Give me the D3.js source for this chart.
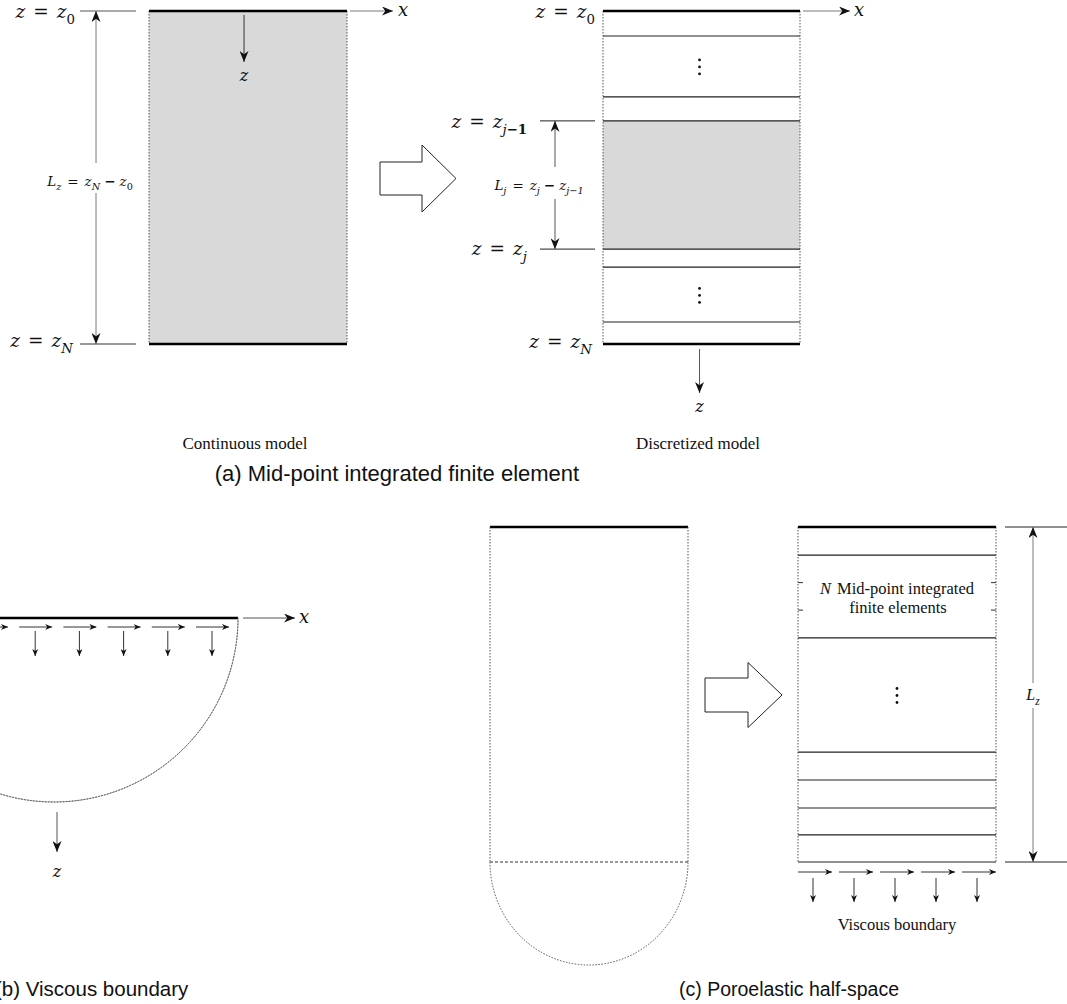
<!DOCTYPE html>
<html>
<head>
<meta charset="utf-8">
<script src="https://cdn.jsdelivr.net/npm/d3@7"></script>
<style>
  html, body { margin: 0; padding: 0; background: #fff; }
  svg { display: block; }
</style>
</head>
<body>
<svg id="fig" width="1067" height="1004"></svg>
<script>
// ---- layer boundaries, in percent of the modelled depth ----
const continuousBounds = [0, 100];
const discreteBounds   = [0, 7.5, 25.8, 33.0, 71.5, 76.9, 93.4, 100];
const activeElement    = [33.0, 71.5];          // element j (shaded)
const ellipsisDepths   = [16.8, 85.4];          // "⋮" rows in the discretized column
const halfSpaceBounds  = [0, 8.4, 33.1, 67.2, 75.5, 83.9, 91.9, 100];
const halfSpaceEllipsis = [50.3];
const halfSpaceTicks   = [16.6, 24.8];          // short marks beside the FE label
// dashpot stations along the viscous boundary (station index)
const dashpotsB = [0, 1, 2, 3, 4, 5];
const dashpotsC = [0, 1, 2, 3, 4];

// ---- text ----
const subTitles = ["Continuous model", "Discretized model"];
const captions  = ["(a) Mid-point integrated finite element", "(b) Viscous boundary", "(c) Poroelastic half-space"];
const feLabel   = ["Mid-point integrated", "finite elements"];
const vbLabel   = "Viscous boundary";

const svg = d3.select("#fig");
const GREY = "#555", DIM = "#7a7a7a";
const SERIF = "'Liberation Serif', 'Times New Roman', serif";
const MATH = "'DejaVu Serif', serif";

// arrowheads
const defs = svg.append("defs");
function marker(id, len, wid, color) {
  defs.append("marker").attr("id", id)
    .attr("viewBox", `${-len} ${-wid/2} ${len} ${wid}`)
    .attr("refX", 0).attr("refY", 0)
    .attr("markerUnits", "userSpaceOnUse")
    .attr("markerWidth", len).attr("markerHeight", wid)
    .attr("orient", "auto-start-reverse")
    .append("path")
    .attr("d", `M0,0 L${-len},${-wid/2} L${-len*0.7},0 L${-len},${wid/2} Z`)
    .attr("fill", color);
}
marker("big", 11, 9, "#111");
marker("small", 7, 6, "#111");

function arrow(g, x1, y1, x2, y2, opt = {}) {
  const l = g.append("line").attr("x1", x1).attr("y1", y1).attr("x2", x2).attr("y2", y2)
    .attr("stroke", opt.color || GREY).attr("stroke-width", opt.w || 1)
    .attr("marker-end", `url(#${opt.head || "big"})`);
  if (opt.both) l.attr("marker-start", `url(#${opt.head || "big"})`);
  return l;
}
function hline(g, x1, x2, y, color, w, dash) {
  const l = g.append("line").attr("x1", x1).attr("x2", x2).attr("y1", y).attr("y2", y)
    .attr("stroke", color).attr("stroke-width", w);
  if (dash) l.attr("stroke-dasharray", dash);
  return l;
}
function vline(g, x, y1, y2, color, w, dash) {
  const l = g.append("line").attr("x1", x).attr("x2", x).attr("y1", y1).attr("y2", y2)
    .attr("stroke", color).attr("stroke-width", w);
  if (dash) l.attr("stroke-dasharray", dash);
  return l;
}
// math-style label: tokens [text, kind, dx]; kind "v" variable, "r" roman, "b" bold, "s…" subscript
function mathText(g, x, y, tokens, size, anchor, family) {
  const t = g.append("text").attr("x", x).attr("y", y)
    .attr("text-anchor", anchor || "start")
    .style("font-family", family || MATH)
    .style("font-size", size + "px").attr("fill", "#111");
  let shift = 0;
  tokens.forEach(([str, kind, dx]) => {
    const sub = kind && kind[0] === "s";
    const target = sub ? size * 0.32 : 0;
    const sp = t.append("tspan").text(str).attr("dy", target - shift);
    if (dx) sp.attr("dx", dx);
    shift = target;
    if (sub) sp.style("font-size", (size * 0.72) + "px");
    if (kind && kind.endsWith("v")) sp.style("font-style", "italic");
    if (kind && kind.endsWith("b")) sp.style("font-weight", "bold");
  });
  return t;
}
function ellipsisDots(g, x, y) {
  [-7, 0, 7].forEach(d => g.append("circle").attr("cx", x).attr("cy", y + d).attr("r", 1.4).attr("fill", "#111"));
}
function blockArrow(g, x0, yc, len, shaftH, headH, headLen) {
  const xb = x0 + len - headLen;
  const pts = [[x0, yc - shaftH/2], [xb, yc - shaftH/2], [xb, yc - headH/2], [x0 + len, yc],
               [xb, yc + headH/2], [xb, yc + shaftH/2], [x0, yc + shaftH/2]];
  g.append("path").attr("d", d3.line()(pts) + "Z").attr("fill", "#fff").attr("stroke", "#222").attr("stroke-width", 1);
}
const eqZ = (sub, subKind) => [["z", "v"], ["=", "r", 8], ["z", "v", 8], [sub, subKind]];

// =============== (a) continuous and discretized columns ===============
const gA = svg.append("g");
const yA  = d3.scaleLinear().domain([0, 100]).range([11, 344]);
const xA1 = d3.scaleLinear().domain([0, 1]).range([149, 347]);
const xA2 = d3.scaleLinear().domain([0, 1]).range([603, 800]);

// continuous column
gA.append("rect").attr("x", xA1(0)).attr("y", yA(0)).attr("width", xA1(1) - xA1(0)).attr("height", yA(100) - yA(0))
  .attr("fill", "#d9d9d9");
[0, 1].forEach(u => vline(gA, xA1(u), yA(0), yA(100), GREY, 1, "1.5,1.5"));
continuousBounds.forEach(d => hline(gA, xA1(0), xA1(1), yA(d), "#000", 2.6));
arrow(gA, xA1(0.48), yA(1.2), xA1(0.48), yA(15.3), {color: "#333"});
mathText(gA, xA1(0.48), 81, [["z", "v"]], 16, "middle");
arrow(gA, xA1(1) + 3, yA(0), xA1(1) + 46, yA(0), {color: DIM});
mathText(gA, xA1(1) + 51, 16, [["x", "v"]], 18, "start");

// reference levels and overall length
hline(gA, 80, 136, yA(0), GREY, 1);
hline(gA, 80, 136, yA(100), "#333", 1);
mathText(gA, 75, 18, eqZ("0", "sr"), 18.5, "end");
mathText(gA, 73, 347, eqZ("N", "sv"), 18.5, "end");
vline(gA, 96, yA(0), 163, DIM, 1).attr("marker-start", "url(#big)");
vline(gA, 96, 193, yA(100), DIM, 1).attr("marker-end", "url(#big)");
mathText(gA, 90, 186, [["L", "v"], ["z", "sv"], ["=", "r", 6], ["z", "v", 6], ["N", "sv"], ["−", "b", 4], ["z", "v", 4], ["0", "sr"]], 13.5, "middle");

// discretized column
gA.selectAll(".active").data([activeElement]).join("rect")
  .attr("x", xA2(0)).attr("width", xA2(1) - xA2(0))
  .attr("y", d => yA(d[0])).attr("height", d => yA(d[1]) - yA(d[0]))
  .attr("fill", "#d9d9d9");
[0, 1].forEach(u => vline(gA, xA2(u), yA(0), yA(100), GREY, 1, "1.5,1.5"));
discreteBounds.slice(1, -1).forEach(d => hline(gA, xA2(0), xA2(1), yA(d), "#222", 1.1));
[0, 100].forEach(d => hline(gA, xA2(0), xA2(1), yA(d), "#000", 2.6));
ellipsisDepths.forEach(d => ellipsisDots(gA, xA2(0.49), yA(d)));
arrow(gA, xA2(1) + 3, yA(0), xA2(1) + 50, yA(0), {color: DIM});
mathText(gA, xA2(1) + 54, 16, [["x", "v"]], 18, "start");
arrow(gA, xA2(0.49), yA(100) + 5, xA2(0.49), yA(100) + 49, {color: GREY});
mathText(gA, xA2(0.49), 412, [["z", "v"]], 16, "middle");

mathText(gA, 595, 18, eqZ("0", "sr"), 18.5, "end");
mathText(gA, 592, 348, eqZ("N", "sv"), 18.5, "end");
mathText(gA, 527, 128, [["z", "v"], ["=", "r", 8], ["z", "v", 8], ["j", "sv"], ["−1", "sb"]], 18.5, "end");
mathText(gA, 527, 255, eqZ("j", "sv"), 18.5, "end");
hline(gA, 540, 595, yA(activeElement[0]), "#222", 1);
hline(gA, 540, 595, yA(activeElement[1]), "#222", 1);
vline(gA, 555, yA(activeElement[0]), 167, GREY, 1).attr("marker-start", "url(#big)");
vline(gA, 555, 199, yA(activeElement[1]), GREY, 1).attr("marker-end", "url(#big)");
mathText(gA, 539, 190, [["L", "v"], ["j", "sv"], ["=", "r", 6], ["z", "v", 6], ["j", "sv"], ["−", "b", 4], ["z", "v", 4], ["j−1", "sv"]], 13.5, "middle");

blockArrow(gA, 380, 178.5, 76, 33, 67, 34);

gA.selectAll(".sub").data(subTitles).join("text")
  .attr("x", (d, i) => [245, 698][i]).attr("y", 449)
  .attr("text-anchor", "middle")
  .style("font-family", SERIF).style("font-size", "17px")
  .attr("fill", "#111").text(d => d);

// =============== (b) viscous boundary ===============
const gB = svg.append("g");
const yB0 = 618, cxB = 54, rB = 184;
const xB = d3.scaleLinear().domain([0, 5]).range([-9, 212]);
hline(gB, -5, cxB + rB, yB0, "#000", 2.6);
arrow(gB, cxB + rB + 5, yB0, cxB + rB + 57, yB0, {color: GREY});
mathText(gB, cxB + rB + 61, yB0 + 5, [["x", "v"]], 18, "start");
const arcB = d3.arc().innerRadius(rB).outerRadius(rB).startAngle(Math.PI / 2).endAngle(Math.PI * 1.5);
gB.append("path").attr("d", arcB()).attr("transform", `translate(${cxB},${yB0})`)
  .attr("fill", "none").attr("stroke", GREY).attr("stroke-width", 1).attr("stroke-dasharray", "1.5,1.5");
dashpotsB.forEach(i => {
  const c = xB(i);
  arrow(gB, c - 16, yB0 + 9, c + 17, yB0 + 9, {color: "#333", head: "small"});
  arrow(gB, c, yB0 + 13, c, yB0 + 38, {color: "#333", head: "small"});
});
arrow(gB, 57, 812, 57, 852, {color: GREY});
mathText(gB, 57, 877, [["z", "v"]], 16, "middle");

// =============== (c) poroelastic half-space ===============
const gC = svg.append("g");
const yC  = d3.scaleLinear().domain([0, 100]).range([527, 862]);
const xC1 = d3.scaleLinear().domain([0, 1]).range([490, 688]);
const xC2 = d3.scaleLinear().domain([0, 1]).range([798, 996]);

// continuous half-space
hline(gC, xC1(0), xC1(1), yC(0), "#000", 2.6);
[0, 1].forEach(u => vline(gC, xC1(u), yC(0), yC(100), GREY, 1, "1.5,1.5"));
hline(gC, xC1(0), xC1(1), yC(100), "#333", 1, "3,2");
const rx = (xC1(1) - xC1(0)) / 2, ry = 103;
gC.append("path")
  .attr("d", `M${xC1(0)},${yC(100)} A${rx},${ry} 0 0 0 ${xC1(1)},${yC(100)}`)
  .attr("fill", "none").attr("stroke", GREY).attr("stroke-width", 1).attr("stroke-dasharray", "1.5,1.5");

blockArrow(gC, 705, 695, 77, 34, 65, 34);

// discretized half-space
[0, 1].forEach(u => vline(gC, xC2(u), yC(0), yC(100), GREY, 1, "1.5,1.5"));
halfSpaceBounds.slice(1).forEach(d => hline(gC, xC2(0), xC2(1), yC(d), "#222", 1.1));
hline(gC, xC2(0), xC2(1), yC(0), "#000", 2.6);
halfSpaceTicks.forEach(d => {
  hline(gC, xC2(0), xC2(0) + 5, yC(d), "#333", 1);
  hline(gC, xC2(1) - 5, xC2(1), yC(d), "#333", 1);
});
halfSpaceEllipsis.forEach(d => ellipsisDots(gC, xC2(0.5), yC(d)));
const fe = gC.append("text").attr("x", xC2(0.5)).attr("y", 594).attr("text-anchor", "middle")
  .style("font-family", SERIF).style("font-size", "16.5px").attr("fill", "#111");
fe.append("tspan").style("font-style", "italic").text("N");
fe.append("tspan").attr("dx", 6).text(feLabel[0]);
gC.append("text").attr("x", xC2(0.5) + 1).attr("y", 613).attr("text-anchor", "middle")
  .style("font-family", SERIF).style("font-size", "16.5px").attr("fill", "#111")
  .text(feLabel[1]);

// overall depth L_z
hline(gC, 1005, 1067, yC(0), "#222", 1);
hline(gC, 1005, 1067, yC(100), "#222", 1);
vline(gC, 1033, yC(0), 683, DIM, 1).attr("marker-start", "url(#big)");
vline(gC, 1033, 708, yC(100), DIM, 1).attr("marker-end", "url(#big)");
mathText(gC, 1033, 700, [["L", "v"], ["z", "sv"]], 16, "middle", SERIF);

// dashpots under the column
const xD = d3.scaleLinear().domain([0, 4]).range([814, 978]);
dashpotsC.forEach(i => {
  const c = xD(i);
  arrow(gC, c - 16, yC(100) + 10, c + 18, yC(100) + 10, {color: "#333", head: "small"});
  arrow(gC, c - 1, yC(100) + 16, c - 1, yC(100) + 40, {color: "#333", head: "small"});
});
gC.append("text").attr("x", xC2(0.5)).attr("y", 930).attr("text-anchor", "middle")
  .style("font-family", SERIF).style("font-size", "16.5px").attr("fill", "#111")
  .text(vbLabel);

// =============== captions ===============
svg.selectAll(".cap").data(captions).join("text")
  .attr("x", (d, i) => [397, -5, 789][i]).attr("y", (d, i) => [481, 996, 996][i])
  .attr("text-anchor", (d, i) => i === 1 ? "start" : "middle")
  .style("font-family", "'Liberation Sans', Arial, sans-serif")
  .style("font-size", (d, i) => [22, 20.5, 19.5][i] + "px")
  .attr("fill", "#111").text(d => d);
</script>
</body>
</html>
